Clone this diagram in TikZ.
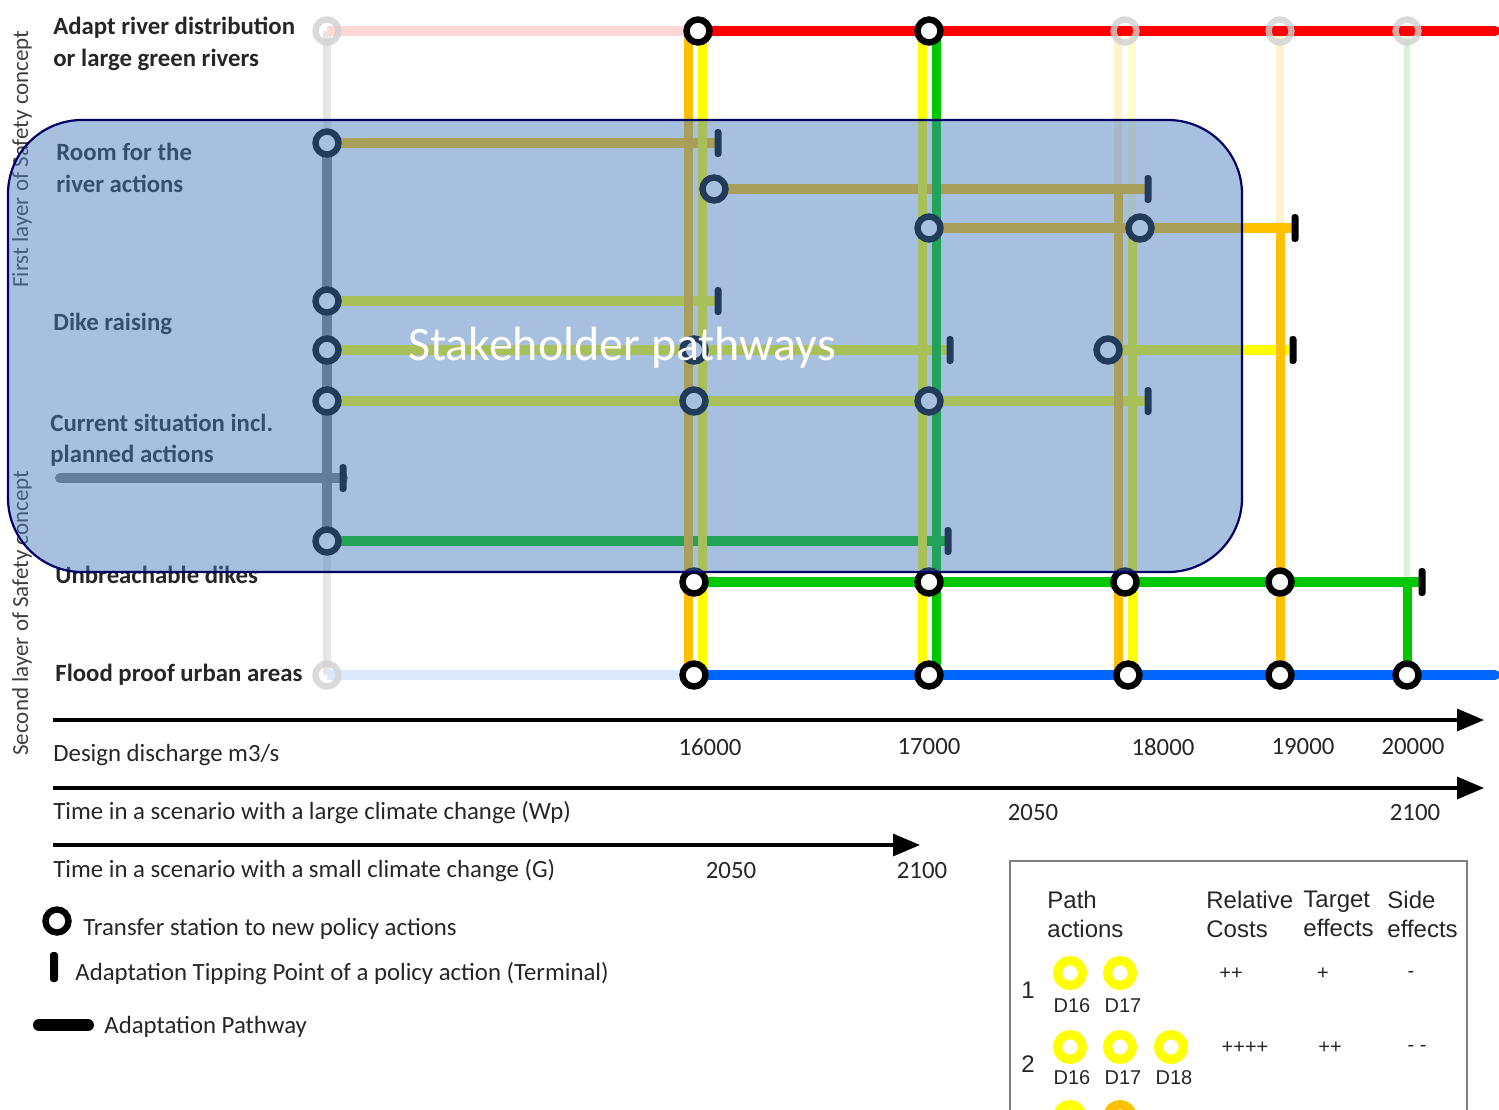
\documentclass[tikz,border=0pt]{standalone}
\usepackage{fontspec}
\setmainfont{Carlito}
\newfontfamily\tablefont{Liberation Sans}
\usetikzlibrary{arrows.meta}
\definecolor{cOrange}{HTML}{FFC000}
\definecolor{cYellow}{HTML}{FFFF00}
\definecolor{cGreen}{HTML}{00C800}
\definecolor{cRed}{HTML}{FF0000}
\definecolor{cBlue}{HTML}{0066FF}
\definecolor{cGray}{HTML}{7F7F7F}
\definecolor{pGray}{HTML}{E6E6E6}
\definecolor{pPink}{HTML}{FFD7D7}
\definecolor{pBlue}{HTML}{DCE8FC}
\definecolor{pOrange}{HTML}{FFF2CC}
\definecolor{pYellow}{HTML}{FFFFCC}
\definecolor{pGreen}{HTML}{D8F5D8}
\definecolor{boxBlue}{HTML}{4A7CBE}
\definecolor{boxLine}{HTML}{000066}
\definecolor{txtGray}{HTML}{262626}
\definecolor{tblGray}{HTML}{808080}
\begin{document}
\begin{tikzpicture}[x=0.5pt,y=-0.5pt,
  rail/.style={line width=5pt},
  vrail/.style={line width=4.5pt},
  palerail/.style={line width=4pt},
  stn/.style={circle,draw=black,fill=white,line width=3.2pt,minimum size=11.5pt,inner sep=0pt},
  palestn/.style={circle,draw=black!18,draw opacity=0.8,line width=3.2pt,minimum size=11.5pt,inner sep=0pt},
  tipbar/.style={fill=black,minimum width=3.5pt,minimum height=14pt,inner sep=0pt,rounded corners=1.5pt},
  lbl/.style={font=\fontsize{12.4}{15.7}\selectfont\bfseries,text=txtGray,anchor=west,inner sep=0pt,align=left},
  txt/.style={font=\fontsize{12.4}{15}\selectfont,text=txtGray,inner sep=0pt},
  vtxt/.style={font=\fontsize{11.5}{13}\selectfont,text=black!75,rotate=90,inner sep=0pt},
  axisarrow/.style={line width=1.6pt,-{Triangle[length=13.5pt,width=11pt]}},
  tbl/.style={font=\tablefont\fontsize{12}{14.5}\selectfont,text=txtGray,inner sep=0pt},
  tbls/.style={font=\tablefont\fontsize{10}{12}\selectfont,text=txtGray,inner sep=0pt},
  yring/.style={circle,draw=cYellow,line width=4.6pt,minimum size=12.4pt,inner sep=0pt},
  oring/.style={circle,draw=cOrange,line width=4.6pt,minimum size=12.4pt,inner sep=0pt}]
\useasboundingbox (0,0) rectangle (1499,1109);
\clip (0,0) rectangle (1499,1109);

% ---------- coordinates ----------
\coordinate (A0) at (327,31);  \coordinate (A1) at (327,143);
\coordinate (A4) at (327,301); \coordinate (A5) at (327,350);
\coordinate (A6) at (327,401); \coordinate (A8) at (327,541);
\coordinate (A9) at (327,675);
\coordinate (C0) at (60,478);  \coordinate (C1) at (343,478);
\coordinate (T16) at (698,31); \coordinate (T17) at (929,31);
\coordinate (T18) at (1125,31); \coordinate (T19) at (1280,31);
\coordinate (T20) at (1407,31); \coordinate (Tend) at (1495,31);
\coordinate (R1e) at (718,143);
\coordinate (R2s) at (714,189); \coordinate (R2e) at (1148,189);
\coordinate (R3s) at (929,228); \coordinate (R3m) at (1140,228); \coordinate (R3e) at (1295,228);
\coordinate (R4e) at (718,301);
\coordinate (R5m) at (694,350); \coordinate (R5e) at (950,350);
\coordinate (R5s) at (1108,350); \coordinate (R5f) at (1293,350);
\coordinate (R6m) at (694,401); \coordinate (R6n) at (929,401); \coordinate (R6e) at (1148,401);
\coordinate (R8e) at (948,541);
\coordinate (U16) at (694,582); \coordinate (U17) at (929,582);
\coordinate (U18) at (1125,582); \coordinate (U19) at (1280,582);
\coordinate (U20) at (1422,582);
\coordinate (F16) at (694,675); \coordinate (F17) at (929,675);
\coordinate (F18) at (1128,675); \coordinate (F19) at (1280,675);
\coordinate (F20) at (1407,675); \coordinate (Fend) at (1495,675);
% vertical line ends
\coordinate (o16t) at (688,31);  \coordinate (o16b) at (688,675);
\coordinate (y16t) at (702,31);  \coordinate (y16b) at (702,675);
\coordinate (y17t) at (922,31);  \coordinate (y17b) at (922,675);
\coordinate (g17t) at (936,31);  \coordinate (g17b) at (936,675);
\coordinate (o18p) at (1118,31); \coordinate (o18t) at (1118,189); \coordinate (o18b) at (1118,675);
\coordinate (y18p) at (1132,31); \coordinate (y18t) at (1132,228); \coordinate (y18b) at (1132,675);
\coordinate (o19t) at (1280,228); \coordinate (o19b) at (1280,675);
\coordinate (g20p) at (1407,31); \coordinate (g20t) at (1407,582); \coordinate (g20b) at (1407,675);

% ---------- side titles ----------
\node[vtxt] (vFirst) at (22,159) {First layer of Safety concept};
\node[vtxt] (vSecond) at (22,613) {Second layer of Safety concept};

% ---------- pale lines ----------
\draw[palerail,pGray] (A0) -- (A1);
\draw[palerail,pGray] (A8) -- (A9);
\draw[rail,pPink] (A0) -- (T16);
\draw[rail,pBlue] (A9) -- (F16);
\draw[palerail,pOrange] (o18p) -- (o18t);
\draw[palerail,pYellow] (y18p) -- (y18t);
\draw[palerail,pOrange] (T19) -- (o19t);
\draw[line width=3pt,pGreen] (g20p) -- (g20t);

% ---------- solid horizontal lines ----------
\draw[rail,cGray] (A1) -- (A8);
\draw[rail,cGray,line cap=round] (C0) -- (C1);
\draw[rail,cRed,line cap=round] (T16) -- (Tend);
\draw[rail,cBlue,line cap=round] (F16) -- (Fend);
\draw[rail,cOrange] (A1) -- (R1e);
\draw[rail,cOrange] (R2s) -- (R2e);
\draw[rail,cOrange] (R3s) -- (R3e);
\draw[rail,cYellow] (A4) -- (R4e);
\draw[rail,cYellow] (A5) -- (R5e);
\draw[rail,cYellow] (R5s) -- (R5f);
\draw[rail,cYellow] (A6) -- (R6e);
\draw[rail,cGreen] (A8) -- (R8e);
\draw[rail,cGreen] (U16) -- (U20);

% ---------- solid vertical lines ----------
\draw[vrail,cOrange] (o16t) -- (o16b);
\draw[vrail,cYellow] (y16t) -- (y16b);
\draw[vrail,cYellow] (y17t) -- (y17b);
\draw[vrail,cGreen] (g17t) -- (g17b);
\draw[vrail,cOrange] (o18t) -- (o18b);
\draw[vrail,cYellow] (y18t) -- (y18b);
\draw[vrail,cOrange] (o19t) -- (o19b);
\draw[vrail,cGreen] (g20t) -- (g20b);

% ---------- tipping points ----------
\node[tipbar] (b1) at (R1e) {};
\node[tipbar] (b2) at (R2e) {};
\node[tipbar] (b3) at (R3e) {};
\node[tipbar] (b4) at (R4e) {};
\node[tipbar] (b5) at (R5e) {};
\node[tipbar] (b6) at (R5f) {};
\node[tipbar] (b7) at (R6e) {};
\node[tipbar] (b8) at (C1) {};
\node[tipbar] (b9) at (R8e) {};
\node[tipbar] (b10) at (U20) {};

% ---------- stations ----------
\node[palestn] (sA0) at (A0) {};
\node[palestn] (sA9) at (A9) {};
\node[palestn] (sT18) at (T18) {};
\node[palestn] (sT19) at (T19) {};
\node[palestn] (sT20) at (T20) {};
\node[stn] (sT16) at (T16) {};
\node[stn] (sT17) at (T17) {};
\node[stn] (sA1) at (A1) {};
\node[stn] (sA4) at (A4) {};
\node[stn] (sA5) at (A5) {};
\node[stn] (sA6) at (A6) {};
\node[stn] (sA8) at (A8) {};
\node[stn] (sR2) at (R2s) {};
\node[stn] (sR3) at (R3s) {};
\node[stn] (sR3m) at (R3m) {};
\node[stn] (sR5m) at (R5m) {};
\node[stn] (sR5s) at (R5s) {};
\node[stn] (sR6m) at (R6m) {};
\node[stn] (sR6n) at (R6n) {};
\node[stn] (sU16) at (U16) {};
\node[stn] (sU17) at (U17) {};
\node[stn] (sU18) at (U18) {};
\node[stn] (sU19) at (U19) {};
\node[stn] (sF16) at (F16) {};
\node[stn] (sF17) at (F17) {};
\node[stn] (sF18) at (F18) {};
\node[stn] (sF19) at (F19) {};
\node[stn] (sF20) at (F20) {};

% ---------- row labels ----------
\node[lbl] (lAdapt) at (53,44) {Adapt river distribution\\or large green rivers};
\node[lbl] (lRoom) at (56,168) {Room for the\\river actions};
\node[lbl] (lDike) at (53,324) {Dike raising};
\node[lbl] (lCur) at (50,440) {Current situation incl.\\planned actions};
\node[lbl] (lUnb) at (55,575) {Unbreachable dikes};
\node[lbl] (lFlood) at (55,675) {Flood proof urban areas};

% ---------- overlay ----------
\draw[draw=boxLine,line width=1.1pt,fill=boxBlue,fill opacity=0.48,rounded corners=37pt] (8,120) rectangle (1242,572);
\node[font=\fontsize{24}{28}\selectfont,text=white,inner sep=0pt] (stake) at (622,348) {Stakeholder pathways};

% ---------- axes ----------
\coordinate (ax1s) at (53,720);  \coordinate (ax1e) at (1484,720);
\coordinate (ax2s) at (53,788);  \coordinate (ax2e) at (1484,788);
\coordinate (ax3s) at (53,845);  \coordinate (ax3e) at (920,845);
\draw[axisarrow] (ax1s) -- (ax1e);
\draw[axisarrow] (ax2s) -- (ax2e);
\draw[axisarrow] (ax3s) -- (ax3e);
\node[txt,anchor=west] (tDD) at (53,755) {Design discharge m3/s};
\node[txt] (n16) at (710,747) {16000};
\node[txt] (n17) at (929,747) {17000};
\node[txt] (n18) at (1163,747) {18000};
\node[txt] (n19) at (1303,747) {19000};
\node[txt] (n20) at (1413,747) {20000};
\node[txt,anchor=west] (tWp) at (53,813) {Time in a scenario with a large climate change (Wp)};
\node[txt] (w2050) at (1033,813) {2050};
\node[txt] (w2100) at (1415,813) {2100};
\node[txt,anchor=west] (tG) at (53,871) {Time in a scenario with a small climate change (G)};
\node[txt] (g2050) at (731,871) {2050};
\node[txt] (g2100) at (922,871) {2100};

% ---------- legend ----------
\node[stn] (legStn) at (57,921) {};
\node[txt,anchor=west] (legStnT) at (83,929) {Transfer station to new policy actions};
\node[tipbar,minimum width=4pt,minimum height=15pt] (legTip) at (54,967) {};
\node[txt,anchor=west] (legTipT) at (75,974) {Adaptation Tipping Point of a policy action (Terminal)};
\coordinate (legP1) at (39,1025); \coordinate (legP2) at (88,1025);
\draw[line width=6pt,line cap=round] (legP1) -- (legP2);
\node[txt,anchor=west] (legPT) at (104,1027) {Adaptation Pathway};

% ---------- table ----------
\draw[tblGray,line width=1.2pt] (1010,1120) -- (1010,861) -- (1467,861) -- (1467,1120);
\node[tbl,anchor=west,align=left] (hPath) at (1047,914) {Path\\actions};
\node[tbl,anchor=west,align=left] (hCost) at (1206,914) {Relative\\Costs};
\node[tbl,anchor=west,align=left] (hTarget) at (1303,914) {Target\\effects};
\node[tbl,anchor=west,align=left] (hSide) at (1387,914) {Side\\effects};
\node[tbl] (r1) at (1028,990) {1};
\node[yring] (r1a) at (1070,973) {};
\node[yring] (r1b) at (1120,973) {};
\node[tbls] (r1al) at (1072,1006) {D16};
\node[tbls] (r1bl) at (1123,1006) {D17};
\node[tbls] (r1c) at (1231,974) {++};
\node[tbls] (r1t) at (1323,974) {+};
\node[tbls] (r1s) at (1411,974) {-};
\node[tbl] (r2) at (1028,1064) {2};
\node[yring] (r2a) at (1070,1047) {};
\node[yring] (r2b) at (1120,1047) {};
\node[yring] (r2c) at (1171,1047) {};
\node[tbls] (r2al) at (1072,1078) {D16};
\node[tbls] (r2bl) at (1123,1078) {D17};
\node[tbls] (r2cl) at (1174,1078) {D18};
\node[tbls] (r2co) at (1245,1048) {++++};
\node[tbls] (r2t) at (1330,1048) {++};
\node[tbls] (r2s) at (1417,1048) {- -};
\node[yring] (r3a) at (1070,1117) {};
\node[oring] (r3b) at (1120,1117) {};
\end{tikzpicture}
\end{document}
